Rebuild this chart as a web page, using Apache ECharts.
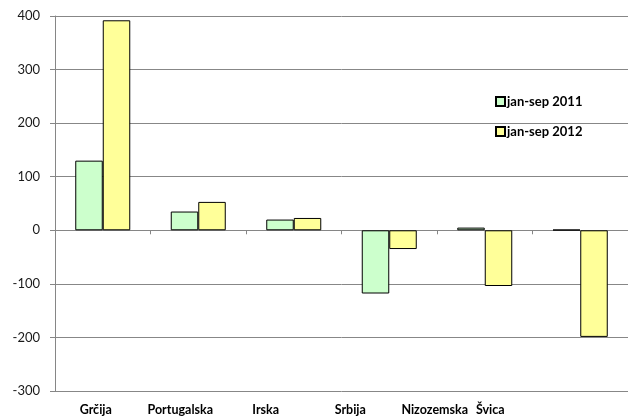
<!DOCTYPE html>
<html>
<head>
<meta charset="utf-8">
<script src="https://cdn.jsdelivr.net/npm/echarts@6/dist/echarts.min.js"></script>
<style>html,body{margin:0;padding:0;background:#fff;}#c{width:628px;height:418px;}</style>
</head>
<body>
<div id="c"></div>
<script>
const categories = ['Grčija', 'Portugalska', 'Irska', 'Srbija', 'Nizozemska', 'Švica'];
const series2011 = [130, 35, 20, -118, 5, 1];
const series2012 = [392, 53, 23, -35, -104, -199];
const seriesNames = ['jan-sep 2011', 'jan-sep 2012'];
const yTicks = [-300, -200, -100, 0, 100, 200, 300, 400];

// label horizontal shifts (px, leftwards) to mimic the reference layout
const shift = [7, 18, 28, 39, 50, 90];
const labelItems = categories.map((c, i) => ({
  value: c,
  textStyle: { padding: [0, shift[i] * 2, 0, 0] }
}));

const font = 'Lato, "Open Sans", sans-serif';
const chart = echarts.init(document.getElementById('c'));
chart.setOption({
  animation: false,
  backgroundColor: '#fff',
  grid: { left: 55, right: 0, top: 16, bottom: 27, containLabel: false },
  legend: {
    orient: 'vertical',
    left: 490, top: 90,
    itemWidth: 9, itemHeight: 9, itemGap: 17,
    icon: 'rect',
    textStyle: { fontFamily: font, fontWeight: 'bold', fontSize: 13, color: '#000', padding: [0, 0, 0, -3] },
    data: seriesNames
  },
  xAxis: [
    {
      type: 'category', data: categories,
      axisLine: { onZero: true, lineStyle: { color: '#868686', width: 1 } },
      axisTick: { show: true, length: 4, lineStyle: { color: '#868686' } },
      axisLabel: { show: false }
    },
    {
      type: 'category', data: labelItems, position: 'bottom',
      axisLine: { show: false, onZero: false }, axisTick: { show: false },
      axisLabel: { fontFamily: font, fontWeight: 'bold', fontSize: 12.5, color: '#000', margin: 12, interval: 0 }
    }
  ],
  yAxis: {
    type: 'value', min: -300, max: 400, interval: 100,
    axisLine: { show: true, lineStyle: { color: '#868686' } },
    axisTick: { show: true, length: 5, lineStyle: { color: '#868686' } },
    axisLabel: { fontFamily: font, fontSize: 13, color: '#1a1a1a', margin: 15,
      formatter: v => yTicks.includes(v) ? String(v) : '' },
    splitLine: { show: true, lineStyle: { color: '#878787', width: 1 } }
  },
  series: [
    {
      name: seriesNames[0], type: 'bar', xAxisIndex: 0, data: series2011,
      barWidth: 27.5, barGap: '0%', barCategoryGap: '42%',
      itemStyle: { color: '#CCFFCC', borderColor: '#000', borderWidth: 1 }
    },
    {
      name: seriesNames[1], type: 'bar', xAxisIndex: 0, data: series2012,
      barWidth: 27.5, barGap: '0%',
      itemStyle: { color: '#FFFF99', borderColor: '#000', borderWidth: 1 }
    }
  ]
});
</script>
</body>
</html>
